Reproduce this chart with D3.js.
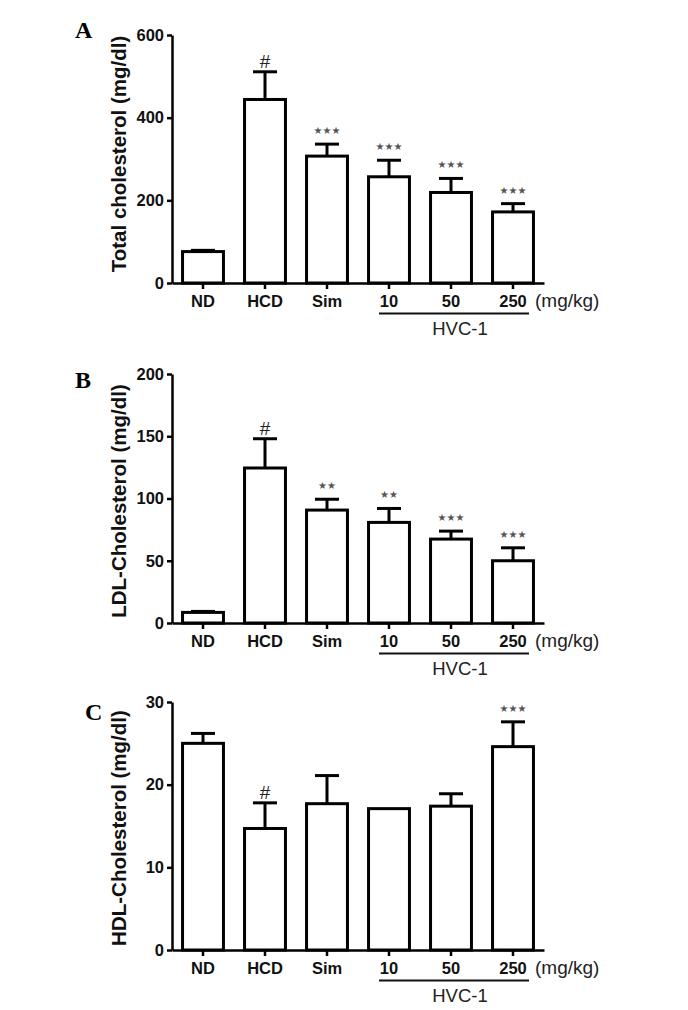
<!DOCTYPE html>
<html>
<head>
<meta charset="utf-8">
<script src="https://cdn.jsdelivr.net/npm/d3@7"></script>
<style>
body { margin: 0; background: #fff; }
svg text { font-family: "Liberation Sans", Arial, sans-serif; }
</style>
</head>
<body>
<div id="chart"></div>
<script>
var groups = ["ND", "HCD", "Sim", "10", "50", "250"];

var totalMean = [76, 444, 307, 257, 219, 172],
	totalErr  = [3, 67, 29, 40, 34, 20],
	totalSig  = ["", "#", "***", "***", "***", "***"],
	totalTicks = [0, 200, 400, 600];

var ldlMean = [8.5, 124.5, 90.7, 80.8, 67.4, 50],
	ldlErr  = [0.8, 23.5, 8.7, 11.2, 6.4, 10.4],
	ldlSig  = ["", "#", "**", "**", "***", "***"],
	ldlTicks = [0, 50, 100, 150, 200];

var hdlMean = [25.0, 14.7, 17.7, 17.1, 17.4, 24.6],
	hdlErr  = [1.2, 3.1, 3.4, 0, 1.5, 3.0],
	hdlSig  = ["", "#", "", "", "", "***"],
	hdlTicks = [0, 10, 20, 30];

var width = 688, height = 1010;

var svg = d3.select("#chart")
	.append("svg")
	.attr("width", width)
	.attr("height", height)
	.style("background", "#fff");

var x = d3.scaleBand()
	.domain(groups)
	.range([172, 544])
	.paddingInner(0.34)
	.paddingOuter(0.17);

var panels = [
	{letter: "A", lx: 75, ly: 38, top: 35, bottom: 283, max: 600, ticks: totalTicks,
		mean: totalMean, err: totalErr, sig: totalSig, title: "Total cholesterol (mg/dl)", ty: 154},
	{letter: "B", lx: 75, ly: 388, top: 374, bottom: 623, max: 200, ticks: ldlTicks,
		mean: ldlMean, err: ldlErr, sig: ldlSig, title: "LDL-Cholesterol (mg/dl)", ty: 501},
	{letter: "C", lx: 85, ly: 720, top: 702, bottom: 950, max: 30, ticks: hdlTicks,
		mean: hdlMean, err: hdlErr, sig: hdlSig, title: "HDL-Cholesterol (mg/dl)", ty: 828}
];

panels.forEach(drawPanel);

function drawPanel(p) {
	var g = svg.append("g");
	var y = d3.scaleLinear().domain([0, p.max]).range([p.bottom, p.top]);

	// panel letter
	g.append("text")
		.attr("x", p.lx)
		.attr("y", p.ly)
		.style("font-family", "'Liberation Serif', 'Times New Roman', serif")
		.style("font-weight", "bold")
		.style("font-size", "24px")
		.text(p.letter);

	// y axis
	var yAxis = g.append("g")
		.attr("transform", "translate(172,0)")
		.call(d3.axisLeft(y).tickValues(p.ticks).tickSize(5).tickSizeOuter(0).tickPadding(3));
	yAxis.select(".domain").attr("stroke-width", 2.5);
	yAxis.selectAll(".tick line").attr("stroke-width", 2.5);
	yAxis.selectAll("text")
		.style("font-size", "16.5px")
		.style("font-weight", "bold")
		.attr("fill", "#111");

	// y title
	g.append("text")
		.attr("transform", "translate(126," + p.ty + ") rotate(-90)")
		.attr("text-anchor", "middle")
		.style("font-size", "20.5px")
		.style("font-weight", "bold")
		.attr("fill", "#111")
		.text(p.title);

	// bars
	g.selectAll("rect.bar")
		.data(groups).enter()
		.append("rect")
		.attr("class", "bar")
		.attr("x", function(d) { return x(d); })
		.attr("width", x.bandwidth())
		.attr("y", function(d, i) { return y(p.mean[i]); })
		.attr("height", function(d, i) { return y(0) - y(p.mean[i]); })
		.attr("fill", "#fff")
		.attr("stroke", "#000")
		.attr("stroke-width", 3);

	// error bars (upper only)
	var eb = g.selectAll("g.err")
		.data(groups).enter()
		.append("g")
		.attr("class", "err")
		.filter(function(d, i) { return p.err[i] > 0; });
	eb.append("line")
		.attr("x1", function(d) { return x(d) + x.bandwidth() / 2; })
		.attr("x2", function(d) { return x(d) + x.bandwidth() / 2; })
		.attr("y1", function(d) { return y(p.mean[groups.indexOf(d)]); })
		.attr("y2", function(d) { var i = groups.indexOf(d); return y(p.mean[i] + p.err[i]); })
		.attr("stroke", "#000")
		.attr("stroke-width", 3);
	eb.append("line")
		.attr("x1", function(d) { return x(d) + x.bandwidth() / 2 - 12; })
		.attr("x2", function(d) { return x(d) + x.bandwidth() / 2 + 12; })
		.attr("y1", function(d) { var i = groups.indexOf(d); return y(p.mean[i] + p.err[i]); })
		.attr("y2", function(d) { var i = groups.indexOf(d); return y(p.mean[i] + p.err[i]); })
		.attr("stroke", "#000")
		.attr("stroke-width", 3);

	// significance marks
	g.selectAll("text.sig")
		.data(groups).enter()
		.append("text")
		.attr("class", "sig")
		.attr("x", function(d) { return x(d) + x.bandwidth() / 2; })
		.attr("y", function(d, i) {
			var top = y(p.mean[i] + p.err[i]);
			return p.sig[i] == "#" ? top - 4 : top - 10;
		})
		.attr("text-anchor", "middle")
		.style("font-family", function(d, i) { return p.sig[i] == "#" ? "'Liberation Sans', Arial, sans-serif" : "'DejaVu Sans', sans-serif"; })
		.style("font-size", function(d, i) { return p.sig[i] == "#" ? "19px" : "10px"; })
		.attr("fill", function(d, i) { return p.sig[i] == "#" ? "#222" : "#555"; })
		.text(function(d, i) { return p.sig[i].replace(/\*/g, "\u2605"); });

	// x axis
	var xAxis = g.append("g")
		.attr("transform", "translate(0," + p.bottom + ")")
		.call(d3.axisBottom(x).tickSize(6).tickSizeOuter(0).tickPadding(6.3));
	xAxis.select(".domain").attr("stroke-width", 2.5);
	xAxis.selectAll(".tick line").attr("stroke-width", 2.5);
	xAxis.selectAll("text")
		.style("font-size", "16.5px")
		.style("font-weight", "bold")
		.attr("fill", "#111");

	g.append("text")
		.attr("x", 535)
		.attr("y", p.bottom + 24)
		.style("font-size", "19px")
		.attr("fill", "#222")
		.text("(mg/kg)");

	// HVC-1 bracket
	var x0 = x("10") + x.bandwidth() / 2 - 10,
		x1 = x("250") + x.bandwidth() / 2 + 16;
	g.append("line")
		.attr("x1", x0).attr("x2", x1)
		.attr("y1", p.bottom + 30.5).attr("y2", p.bottom + 30.5)
		.attr("stroke", "#111")
		.attr("stroke-width", 2);
	g.append("text")
		.attr("x", (x0 + x1) / 2 + 6)
		.attr("y", p.bottom + 51.5)
		.attr("text-anchor", "middle")
		.style("font-size", "18.5px")
		.attr("fill", "#222")
		.text("HVC-1");
}
</script>
</body>
</html>
